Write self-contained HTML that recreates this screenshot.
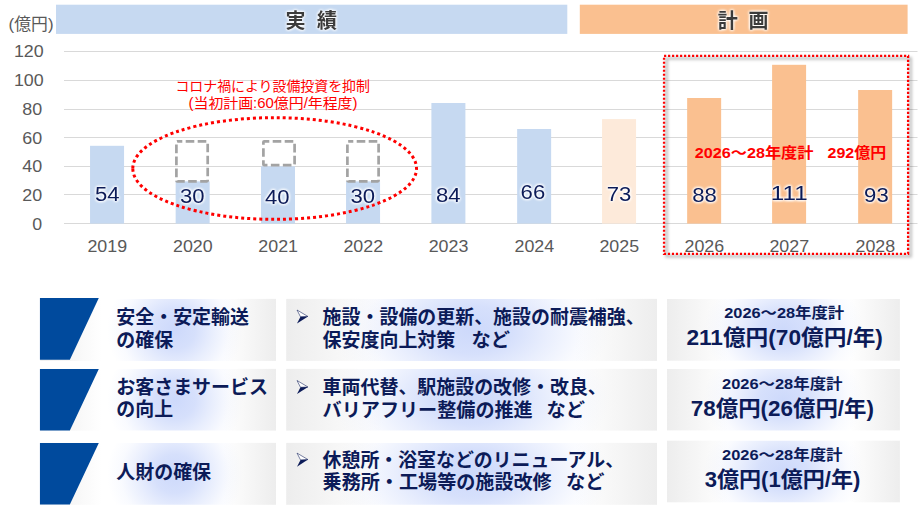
<!DOCTYPE html>
<html lang="ja"><head><meta charset="utf-8"><title>設備投資計画</title>
<style>html,body{margin:0;padding:0;background:#fff;overflow:hidden;width:920px;height:510px;font-family:"Liberation Sans","Noto Sans CJK JP",sans-serif}svg{display:block}text{font-family:"Liberation Sans","Noto Sans CJK JP",sans-serif;white-space:pre}</style>
</head><body>
<svg width="920" height="510" viewBox="0 0 920 510">
<defs>
<linearGradient id="bx" x1="0" x2="1" y1="0" y2="0"><stop offset="0" stop-color="#ededed"/><stop offset="0.26" stop-color="#ffffff"/><stop offset="0.78" stop-color="#ffffff"/><stop offset="1" stop-color="#ededed"/></linearGradient>
<linearGradient id="bx1" gradientUnits="userSpaceOnUse" x1="75" x2="276" y1="0" y2="0"><stop offset="0" stop-color="#ededed"/><stop offset="0.26" stop-color="#ffffff"/><stop offset="0.78" stop-color="#ffffff"/><stop offset="1" stop-color="#ededed"/></linearGradient>
<radialGradient id="blob"><stop offset="0" stop-color="#cdd9fb" stop-opacity="1"/><stop offset="0.3" stop-color="#cdd9fb" stop-opacity="0.82"/><stop offset="0.55" stop-color="#cdd9fb" stop-opacity="0.45"/><stop offset="0.8" stop-color="#cdd9fb" stop-opacity="0.12"/><stop offset="1" stop-color="#cdd9fb" stop-opacity="0"/></radialGradient>
<filter id="sh" color-interpolation-filters="sRGB" x="-5%" y="-5%" width="110%" height="110%"><feGaussianBlur stdDeviation="1.6"/></filter>
<filter id="gw" color-interpolation-filters="sRGB" x="-30%" y="-40%" width="160%" height="180%"><feGaussianBlur in="SourceAlpha" stdDeviation="1.6" result="b"/><feFlood flood-color="#ffffff"/><feComposite in2="b" operator="in" result="g"/><feMerge><feMergeNode in="g"/><feMergeNode in="g"/><feMergeNode in="g"/><feMergeNode in="SourceGraphic"/></feMerge></filter>
<filter id="gd" color-interpolation-filters="sRGB" x="-30%" y="-40%" width="160%" height="180%"><feGaussianBlur in="SourceAlpha" stdDeviation="1.7" result="b"/><feFlood flood-color="#ffffff"/><feComposite in2="b" operator="in" result="g"/><feMerge><feMergeNode in="g"/><feMergeNode in="g"/><feMergeNode in="g"/><feMergeNode in="g"/><feMergeNode in="SourceGraphic"/></feMerge></filter>

<clipPath id="c0"><rect x="40.2" y="298.9" width="235.8" height="62.0"/></clipPath>
<clipPath id="c1"><rect x="40.2" y="368.9" width="235.8" height="61.7"/></clipPath>
<clipPath id="c2"><rect x="40.2" y="442.9" width="235.8" height="61.9"/></clipPath>
<clipPath id="c3"><rect x="286.2" y="298.9" width="370.8" height="62.0"/></clipPath>
<clipPath id="c4"><rect x="286.2" y="368.9" width="370.8" height="61.7"/></clipPath>
<clipPath id="c5"><rect x="286.2" y="442.9" width="370.8" height="61.9"/></clipPath>
<clipPath id="c6"><rect x="667.0" y="299.0" width="232.9" height="61.7"/></clipPath>
<clipPath id="c7"><rect x="667.0" y="369.0" width="232.9" height="61.4"/></clipPath>
<clipPath id="c8"><rect x="667.0" y="440.7" width="232.9" height="61.6"/></clipPath>
</defs>
<rect x="56" y="4.7" width="511.3" height="29.2" fill="#c6d9f1"/>
<rect x="579.8" y="4.7" width="327.8" height="29.2" fill="#fac090"/>
<text x="285.6" y="27.5" font-size="20.00" font-weight="bold" textLength="20.0" lengthAdjust="spacingAndGlyphs" fill="#3b3b3b" filter="url(#gw)">実</text>

<text x="317.0" y="27.5" font-size="20.00" font-weight="bold" textLength="20.0" lengthAdjust="spacingAndGlyphs" fill="#3b3b3b" filter="url(#gw)">績</text>

<text x="717.8" y="27.5" font-size="20.00" font-weight="bold" textLength="20.0" lengthAdjust="spacingAndGlyphs" fill="#3b3b3b" filter="url(#gw)">計</text>

<text x="748.6" y="27.5" font-size="20.00" font-weight="bold" textLength="20.0" lengthAdjust="spacingAndGlyphs" fill="#3b3b3b" filter="url(#gw)">画</text>

<rect x="64" y="51" width="853.5" height="1" fill="#d9d9d9"/>
<rect x="64" y="80" width="853.5" height="1" fill="#d9d9d9"/>
<rect x="64" y="109" width="853.5" height="1" fill="#d9d9d9"/>
<rect x="64" y="137" width="853.5" height="1" fill="#d9d9d9"/>
<rect x="64" y="166" width="853.5" height="1" fill="#d9d9d9"/>
<rect x="64" y="194" width="853.5" height="1" fill="#d9d9d9"/>
<rect x="64" y="223" width="853.5" height="1" fill="#d9d9d9"/>
<text x="8.6" y="29.6" font-size="16.50" font-weight="normal" textLength="45.0" lengthAdjust="spacingAndGlyphs" fill="#595959">(億円)</text>

<text x="32.3" y="229.5" font-size="15.60" font-weight="normal" textLength="9.9" lengthAdjust="spacingAndGlyphs" fill="#595959">0</text>

<text x="22.3" y="200.8" font-size="15.60" font-weight="normal" textLength="19.9" lengthAdjust="spacingAndGlyphs" fill="#595959">20</text>

<text x="22.3" y="172.1" font-size="15.60" font-weight="normal" textLength="19.9" lengthAdjust="spacingAndGlyphs" fill="#595959">40</text>

<text x="22.3" y="143.5" font-size="15.60" font-weight="normal" textLength="19.9" lengthAdjust="spacingAndGlyphs" fill="#595959">60</text>

<text x="22.3" y="114.8" font-size="15.60" font-weight="normal" textLength="19.9" lengthAdjust="spacingAndGlyphs" fill="#595959">80</text>

<text x="13.9" y="86.1" font-size="15.60" font-weight="normal" textLength="29.8" lengthAdjust="spacingAndGlyphs" fill="#595959">100</text>

<text x="13.9" y="57.4" font-size="15.60" font-weight="normal" textLength="29.8" lengthAdjust="spacingAndGlyphs" fill="#595959">120</text>

<rect x="90.05" y="145.80" width="34.00" height="77.80" fill="#c6d9f1"/>
<rect x="175.65" y="181.40" width="34.00" height="42.20" fill="#c6d9f1"/>
<rect x="261.00" y="166.30" width="34.00" height="57.30" fill="#c6d9f1"/>
<rect x="346.05" y="181.40" width="34.00" height="42.20" fill="#c6d9f1"/>
<rect x="431.40" y="103.00" width="34.00" height="120.60" fill="#c6d9f1"/>
<rect x="517.15" y="129.00" width="34.00" height="94.60" fill="#c6d9f1"/>
<rect x="602.05" y="119.10" width="34.00" height="104.50" fill="#fdeada"/>
<rect x="687.15" y="98.00" width="34.00" height="125.60" fill="#fac090"/>
<rect x="772.10" y="64.80" width="34.00" height="158.80" fill="#fac090"/>
<rect x="858.15" y="90.00" width="34.00" height="133.60" fill="#fac090"/>
<text x="87.4" y="251.6" font-size="15.60" font-weight="normal" textLength="39.7" lengthAdjust="spacingAndGlyphs" fill="#595959">2019</text>

<text x="173.0" y="251.6" font-size="15.60" font-weight="normal" textLength="39.7" lengthAdjust="spacingAndGlyphs" fill="#595959">2020</text>

<text x="258.3" y="251.6" font-size="15.60" font-weight="normal" textLength="39.7" lengthAdjust="spacingAndGlyphs" fill="#595959">2021</text>

<text x="343.4" y="251.6" font-size="15.60" font-weight="normal" textLength="39.7" lengthAdjust="spacingAndGlyphs" fill="#595959">2022</text>

<text x="428.7" y="251.6" font-size="15.60" font-weight="normal" textLength="39.7" lengthAdjust="spacingAndGlyphs" fill="#595959">2023</text>

<text x="514.5" y="251.6" font-size="15.60" font-weight="normal" textLength="39.7" lengthAdjust="spacingAndGlyphs" fill="#595959">2024</text>

<text x="599.4" y="251.6" font-size="15.60" font-weight="normal" textLength="39.7" lengthAdjust="spacingAndGlyphs" fill="#595959">2025</text>

<text x="684.5" y="251.6" font-size="15.60" font-weight="normal" textLength="39.7" lengthAdjust="spacingAndGlyphs" fill="#595959">2026</text>

<text x="769.4" y="251.6" font-size="15.60" font-weight="normal" textLength="39.7" lengthAdjust="spacingAndGlyphs" fill="#595959">2027</text>

<text x="855.5" y="251.6" font-size="15.60" font-weight="normal" textLength="39.7" lengthAdjust="spacingAndGlyphs" fill="#595959">2028</text>

<rect x="176.40" y="141.30" width="31.30" height="40.00" rx="0.8" fill="none" stroke="#a3a3a3" stroke-width="2.7" stroke-dasharray="8.6 3.4" stroke-dashoffset="3.5"/>
<rect x="263.40" y="141.30" width="31.20" height="23.90" rx="0.8" fill="none" stroke="#a3a3a3" stroke-width="2.7" stroke-dasharray="8.6 3.4" stroke-dashoffset="3.5"/>
<rect x="347.40" y="141.30" width="31.20" height="40.00" rx="0.8" fill="none" stroke="#a3a3a3" stroke-width="2.7" stroke-dasharray="8.6 3.4" stroke-dashoffset="3.5"/>
<path d="M132.8,168.5 A141.85,50.85 0 1 1 416.5,168.5 A141.85,50.85 0 1 1 132.8,168.5 Z" fill="none" stroke="#ff0000" stroke-width="3" stroke-dasharray="3 3"/>
<text x="175.4" y="90.6" font-size="14.00" font-weight="normal" textLength="194.5" lengthAdjust="spacingAndGlyphs" fill="#ff0000">コロナ禍により設備投資を抑制</text>

<text x="188.5" y="108.0" font-size="14.20" font-weight="normal" textLength="169.0" lengthAdjust="spacingAndGlyphs" fill="#ff0000">(当初計画:60億円/年程度)</text>

<rect x="666.6" y="58.4" width="244.05" height="197.9" fill="none" stroke="#000" stroke-opacity="0.28" stroke-width="2.4" filter="url(#sh)"/>
<rect x="664.05" y="55.9" width="244.05" height="197.9" fill="none" stroke="#ff0000" stroke-width="2.3" stroke-dasharray="2.15 1.85"/>
<text x="94.9" y="201.4" font-size="19.30" font-weight="normal" textLength="24.6" lengthAdjust="spacingAndGlyphs" fill="#0c1b58" filter="url(#gd)">54</text>

<text x="180.0" y="202.9" font-size="19.30" font-weight="normal" textLength="24.6" lengthAdjust="spacingAndGlyphs" fill="#0c1b58" filter="url(#gd)">30</text>

<text x="264.9" y="203.9" font-size="19.30" font-weight="normal" textLength="24.6" lengthAdjust="spacingAndGlyphs" fill="#0c1b58" filter="url(#gd)">40</text>

<text x="350.4" y="202.9" font-size="19.30" font-weight="normal" textLength="24.6" lengthAdjust="spacingAndGlyphs" fill="#0c1b58" filter="url(#gd)">30</text>

<text x="436.0" y="202.1" font-size="19.30" font-weight="normal" textLength="24.6" lengthAdjust="spacingAndGlyphs" fill="#0c1b58" filter="url(#gd)">84</text>

<text x="520.6" y="199.1" font-size="19.30" font-weight="normal" textLength="24.6" lengthAdjust="spacingAndGlyphs" fill="#0c1b58" filter="url(#gd)">66</text>

<text x="606.7" y="201.4" font-size="19.30" font-weight="normal" textLength="24.6" lengthAdjust="spacingAndGlyphs" fill="#0c1b58" filter="url(#gd)">73</text>

<text x="692.3" y="202.1" font-size="19.30" font-weight="normal" textLength="24.6" lengthAdjust="spacingAndGlyphs" fill="#0c1b58" filter="url(#gd)">88</text>

<text x="770.8" y="200.4" font-size="19.30" font-weight="normal" textLength="36.8" lengthAdjust="spacingAndGlyphs" fill="#0c1b58" filter="url(#gd)">111</text>

<text x="864.1" y="202.1" font-size="19.30" font-weight="normal" textLength="24.6" lengthAdjust="spacingAndGlyphs" fill="#0c1b58" filter="url(#gd)">93</text>

<text x="694.8" y="157.5" font-size="14.67" font-weight="bold" textLength="118.6" lengthAdjust="spacingAndGlyphs" fill="#ff0000">2026～28年度計</text>

<text x="827.6" y="157.5" font-size="14.67" font-weight="bold" textLength="58.6" lengthAdjust="spacingAndGlyphs" fill="#ff0000">292億円</text>

<rect x="40.2" y="298.9" width="235.8" height="62.0" fill="url(#bx)"/>
<rect x="286.2" y="298.9" width="370.8" height="62.0" fill="url(#bx)"/>
<rect x="40.2" y="368.9" width="235.8" height="61.7" fill="url(#bx)"/>
<rect x="286.2" y="368.9" width="370.8" height="61.7" fill="url(#bx)"/>
<rect x="40.2" y="442.9" width="235.8" height="61.9" fill="url(#bx)"/>
<rect x="286.2" y="442.9" width="370.8" height="61.9" fill="url(#bx)"/>
<rect x="667.0" y="299.0" width="232.9" height="61.7" fill="url(#bx)"/>
<rect x="667.0" y="369.0" width="232.9" height="61.4" fill="url(#bx)"/>
<rect x="667.0" y="440.7" width="232.9" height="61.6" fill="url(#bx)"/>
<g clip-path="url(#c0)"><ellipse cx="175.0" cy="329.9" rx="68.0" ry="65.0" fill="url(#blob)"/></g>
<g>
<text x="116.3" y="324.0" font-size="18.95" font-weight="bold" textLength="132.7" lengthAdjust="spacingAndGlyphs" fill="#0c1b58">安全・安定輸送</text>

<text x="116.3" y="346.6" font-size="18.95" font-weight="bold" textLength="56.8" lengthAdjust="spacingAndGlyphs" fill="#0c1b58">の確保</text>

</g>
<g clip-path="url(#c1)"><ellipse cx="175.0" cy="399.8" rx="68.0" ry="65.0" fill="url(#blob)"/></g>
<g>
<text x="116.3" y="393.8" font-size="18.95" font-weight="bold" textLength="151.6" lengthAdjust="spacingAndGlyphs" fill="#0c1b58">お客さまサービス</text>

<text x="116.3" y="416.4" font-size="18.95" font-weight="bold" textLength="56.8" lengthAdjust="spacingAndGlyphs" fill="#0c1b58">の向上</text>

</g>
<g clip-path="url(#c2)"><ellipse cx="175.0" cy="473.9" rx="68.0" ry="65.0" fill="url(#blob)"/></g>
<g>
<text x="116.3" y="479.2" font-size="18.95" font-weight="bold" textLength="94.8" lengthAdjust="spacingAndGlyphs" fill="#0c1b58">人財の確保</text>

</g>
<g clip-path="url(#c3)"><ellipse cx="471.6" cy="329.9" rx="138.0" ry="80.0" fill="url(#blob)"/></g>
<g>
<g><polygon points="297,310.0 308,316.5 300.5,316.8" fill="#fff" stroke="#0c1b58" stroke-width="0.55"/><polygon points="300.5,316.8 308,316.5 297,323.6" fill="#0c1b58"/></g>
<text x="322.6" y="324.0" font-size="18.95" font-weight="bold" textLength="322.1" lengthAdjust="spacingAndGlyphs" fill="#0c1b58">施設・設備の更新、施設の耐震補強、</text>

<text x="322.6" y="346.6" font-size="18.95" font-weight="bold" textLength="132.7" lengthAdjust="spacingAndGlyphs" fill="#0c1b58">保安度向上対策</text>

<text x="471.6" y="346.6" font-size="18.95" font-weight="bold" textLength="38.4" lengthAdjust="spacingAndGlyphs" fill="#0c1b58">など</text>

</g>
<g clip-path="url(#c4)"><ellipse cx="471.6" cy="399.8" rx="138.0" ry="80.0" fill="url(#blob)"/></g>
<g>
<g><polygon points="297,380.5 308,387.0 300.5,387.3" fill="#fff" stroke="#0c1b58" stroke-width="0.55"/><polygon points="300.5,387.3 308,387.0 297,394.1" fill="#0c1b58"/></g>
<text x="322.6" y="394.4" font-size="18.95" font-weight="bold" textLength="284.2" lengthAdjust="spacingAndGlyphs" fill="#0c1b58">車両代替、駅施設の改修・改良、</text>

<text x="322.6" y="417.0" font-size="18.95" font-weight="bold" textLength="210.1" lengthAdjust="spacingAndGlyphs" fill="#0c1b58">バリアフリー整備の推進</text>

<text x="546.6" y="417.0" font-size="18.95" font-weight="bold" textLength="38.4" lengthAdjust="spacingAndGlyphs" fill="#0c1b58">など</text>

</g>
<g clip-path="url(#c5)"><ellipse cx="471.6" cy="473.9" rx="138.0" ry="80.0" fill="url(#blob)"/></g>
<g>
<g><polygon points="297,453.1 308,459.6 300.5,459.9" fill="#fff" stroke="#0c1b58" stroke-width="0.55"/><polygon points="300.5,459.9 308,459.6 297,466.7" fill="#0c1b58"/></g>
<text x="322.6" y="467.1" font-size="18.95" font-weight="bold" textLength="301.5" lengthAdjust="spacingAndGlyphs" fill="#0c1b58">休憩所・浴室などのリニューアル、</text>

<text x="322.6" y="489.1" font-size="18.95" font-weight="bold" textLength="229.1" lengthAdjust="spacingAndGlyphs" fill="#0c1b58">乗務所・工場等の施設改修</text>

<text x="566.0" y="489.1" font-size="18.95" font-weight="bold" textLength="38.4" lengthAdjust="spacingAndGlyphs" fill="#0c1b58">など</text>

</g>
<g clip-path="url(#c6)"><ellipse cx="783.5" cy="329.9" rx="80.0" ry="60.0" fill="url(#blob)"/></g>
<g>
<text x="724.2" y="317.5" font-size="14.67" font-weight="bold" textLength="120.0" lengthAdjust="spacingAndGlyphs" fill="#0c1b58">2026～28年度計</text>

<text x="686.4" y="345.3" font-size="21.33" font-weight="bold" textLength="196.5" lengthAdjust="spacingAndGlyphs" fill="#0c1b58">211億円(70億円/年)</text>

</g>
<g clip-path="url(#c7)"><ellipse cx="783.5" cy="399.7" rx="80.0" ry="60.0" fill="url(#blob)"/></g>
<g>
<text x="722.0" y="388.7" font-size="14.67" font-weight="bold" textLength="120.5" lengthAdjust="spacingAndGlyphs" fill="#0c1b58">2026～28年度計</text>

<text x="690.8" y="415.9" font-size="21.33" font-weight="bold" textLength="183.2" lengthAdjust="spacingAndGlyphs" fill="#0c1b58">78億円(26億円/年)</text>

</g>
<g clip-path="url(#c8)"><ellipse cx="783.5" cy="471.5" rx="80.0" ry="60.0" fill="url(#blob)"/></g>
<g>
<text x="722.0" y="459.5" font-size="14.67" font-weight="bold" textLength="120.5" lengthAdjust="spacingAndGlyphs" fill="#0c1b58">2026～28年度計</text>

<text x="704.7" y="487.3" font-size="21.33" font-weight="bold" textLength="155.6" lengthAdjust="spacingAndGlyphs" fill="#0c1b58">3億円(1億円/年)</text>

</g>
<polygon points="39.95,298.00 98.80,298.00 69.85,359.80 39.95,359.80" fill="#004a9d"/>
<polygon points="39.95,368.90 98.80,368.90 69.85,430.60 39.95,430.60" fill="#004a9d"/>
<polygon points="39.95,442.90 98.80,442.90 69.85,504.60 39.95,504.60" fill="#004a9d"/>
</svg>
</body></html>
